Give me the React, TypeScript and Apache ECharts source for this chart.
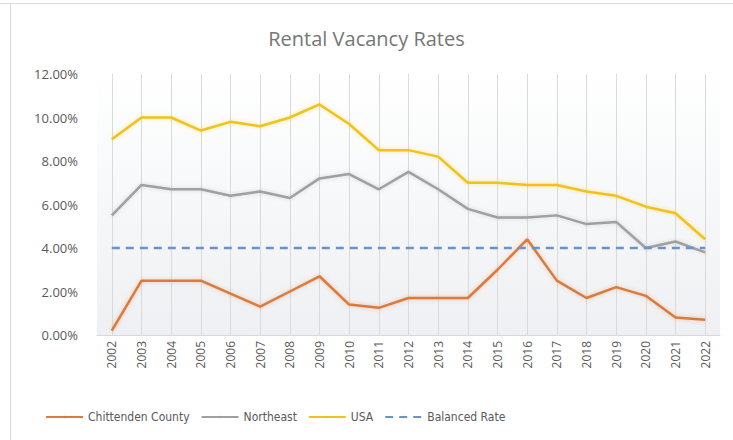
import React, { useEffect, useRef } from "react";
import * as echarts from "echarts";

const years = ["2002","2003","2004","2005","2006","2007","2008","2009","2010","2011","2012","2013","2014","2015","2016","2017","2018","2019","2020","2021","2022"];
const chittenden = [0.2, 2.5, 2.5, 2.5, 1.9, 1.3, 2.0, 2.7, 1.4, 1.25, 1.7, 1.7, 1.7, 3.0, 4.4, 2.5, 1.7, 2.2, 1.8, 0.8, 0.7];
const northeast = [5.5, 6.9, 6.7, 6.7, 6.4, 6.6, 6.3, 7.2, 7.4, 6.7, 7.5, 6.7, 5.8, 5.4, 5.4, 5.5, 5.1, 5.2, 4.0, 4.3, 3.8];
const usa = [9.0, 10.0, 10.0, 9.4, 9.8, 9.6, 10.0, 10.6, 9.7, 8.5, 8.5, 8.2, 7.0, 7.0, 6.9, 6.9, 6.6, 6.4, 5.9, 5.6, 4.4];
const balanced = years.map(() => 4.0);
const seriesNames = ["Chittenden County", "Northeast", "USA", "Balanced Rate"];
const titleText = "Rental Vacancy Rates";

export default function App() {
  const ref = useRef<HTMLDivElement>(null);
  useEffect(() => {
    if (!ref.current) return;
    const chart = echarts.init(ref.current, null, { renderer: "svg" });
    const font = "'Open Sans', sans-serif";
    const narrow = "'Liberation Sans Narrow', 'DejaVu Sans Condensed', 'Open Sans', sans-serif";
    const textColor = "#595959";
    const mk = (name: string, data: number[], color: string, dashed = false, extra: any = {}) => ({
      name,
      type: "line",
      data,
      symbol: "none",
      z: dashed ? 3 : 2,
      lineStyle: {
        color,
        width: 2.5,
        type: dashed ? [8, 6] : "solid",
        shadowColor: dashed ? "transparent" : color + "66",
        shadowBlur: dashed ? 0 : 4,
      },
      itemStyle: { color },
      ...extra,
    });
    chart.setOption({
      animation: false,
      backgroundColor: "#ffffff",
      title: {
        text: titleText,
        left: "center",
        top: 23,
        textStyle: { fontFamily: font, fontSize: 20, fontWeight: "normal", color: "#767676" },
      },
      grid: {
        left: 97,
        right: 13,
        top: 74,
        bottom: 105,
        show: true,
        borderWidth: 0,
        backgroundColor: new echarts.graphic.LinearGradient(0, 0, 0, 1, [
          { offset: 0, color: "#ffffff" },
          { offset: 1, color: "#eef0f3" },
        ]),
      },
      legend: {
        bottom: 12,
        left: 40,
        itemWidth: 37,
        itemHeight: 3,
        itemGap: 11,
        textStyle: { fontFamily: narrow, fontSize: 12, color: textColor },
        data: seriesNames,
      },
      xAxis: {
        type: "category",
        data: years,
        boundaryGap: true,
        axisLine: { lineStyle: { color: "#d9d9d9" } },
        axisTick: { show: false },
        axisLabel: { rotate: 90, fontFamily: font, fontSize: 12, color: textColor, margin: 6 },
        splitLine: { show: false },
      },
      yAxis: {
        type: "value",
        min: 0,
        max: 12,
        interval: 2,
        axisLine: { show: false },
        axisTick: { show: false },
        splitLine: { show: false },
        axisLabel: {
          fontFamily: font,
          fontSize: 13,
          color: textColor,
          margin: 19,
          formatter: (v: number) => v.toFixed(2) + "%",
        },
      },
      graphic: [
        { type: "line", shape: { x1: 0, y1: 3.5, x2: 733, y2: 3.5 }, style: { stroke: "#d9d9d9", lineWidth: 1 } },
        { type: "line", shape: { x1: 10.5, y1: 3.5, x2: 10.5, y2: 440 }, style: { stroke: "#d9d9d9", lineWidth: 1 } },
      ],
      series: [
        mk(seriesNames[0], chittenden, "#DB7A3E", false, {
          markLine: {
            silent: true,
            symbol: "none",
            label: { show: false },
            lineStyle: { color: "#dadada", width: 1, type: "solid", shadowBlur: 0 },
            data: years.map((y) => ({ xAxis: y })),
            z: 1,
          },
        }),
        mk(seriesNames[1], northeast, "#A0A0A0"),
        mk(seriesNames[2], usa, "#F0C21A"),
        mk(seriesNames[3], balanced, "#6A94C8", true),
      ],
    });
    return () => chart.dispose();
  }, []);
  return <div ref={ref} style={{ position: "fixed", left: 0, top: 0, width: 733, height: 440 }} />;
}
